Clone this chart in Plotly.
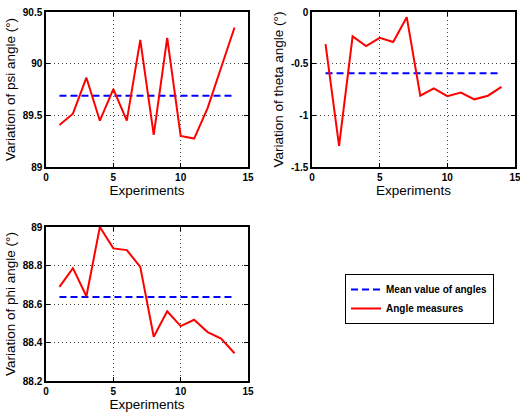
import plotly.graph_objects as go

experiments = list(range(1, 15))
psi_values = [89.406, 89.516, 89.864, 89.448, 89.753, 89.448, 90.23, 89.31, 90.25, 89.30, 89.275, 89.57, 89.96, 90.35]
theta_values = [-0.31, -1.295, -0.236, -0.33, -0.25, -0.29, -0.05, -0.81, -0.74, -0.815, -0.78, -0.845, -0.81, -0.725]
phi_values = [88.689, 88.786, 88.64, 89.0, 88.889, 88.88, 88.793, 88.43, 88.562, 88.485, 88.518, 88.454, 88.42, 88.344]
psi_mean = 89.69
theta_mean = -0.592
phi_mean = 88.637

x_ticks = [0, 5, 10, 15]
psi_ticks = [89, 89.5, 90, 90.5]
theta_ticks = [-1.5, -1, -0.5, 0]
phi_ticks = [88.2, 88.4, 88.6, 88.8, 89]

mean_label = "Mean value of angles"
meas_label = "Angle measures"

W, H = 520, 414
fig = go.Figure()

panels = [
    ("x", "y", psi_values, psi_mean, True),
    ("x2", "y2", theta_values, theta_mean, False),
    ("x3", "y3", phi_values, phi_mean, False),
]
for xa, ya, vals, mean, show in panels:
    fig.add_trace(go.Scatter(x=[experiments[0], experiments[-1]], y=[mean, mean], mode="lines",
                             line=dict(color="#0000ff", width=2, dash="7px,4px"),
                             name=mean_label, showlegend=show, xaxis=xa, yaxis=ya))
for xa, ya, vals, mean, show in panels:
    fig.add_trace(go.Scatter(x=experiments, y=vals, mode="lines",
                             line=dict(color="#ff0000", width=2),
                             name=meas_label, showlegend=show, xaxis=xa, yaxis=ya))

def px_x(a, b):
    return [a / W, b / W]

def px_y(top, bottom):
    return [1 - bottom / H, 1 - top / H]

tickfont = dict(family="Liberation Sans, Arial", size=10, color="black", weight="bold")
titlefont = dict(family="Liberation Sans, Arial", size=13.5, color="black")

common_axis = dict(showline=True, linecolor="black", linewidth=1.5, mirror="ticks",
                   ticks="inside", ticklen=4, tickcolor="black", tickwidth=1,
                   showgrid=True, gridcolor="#444444", gridwidth=1, griddash="1px,3px",
                   zeroline=False, tickfont=tickfont, automargin=False,
                   ticklabeloverflow="allow")

def xaxis(domain, anchor):
    return dict(common_axis, domain=domain, anchor=anchor, range=[0, 15], tickvals=x_ticks,
                title=dict(text="Experiments", font=titlefont, standoff=2))

def yaxis(domain, anchor, rng, ticks, label):
    return dict(common_axis, domain=domain, anchor=anchor, range=rng, tickvals=ticks,
                ticktext=["%g" % t for t in ticks],
                title=dict(text=label, font=titlefont, standoff=4))

fig.update_layout(
    width=W, height=H,
    margin=dict(l=0, r=0, t=0, b=0),
    paper_bgcolor="white", plot_bgcolor="white",
    xaxis=xaxis(px_x(46, 248), "y"),
    yaxis=yaxis(px_y(12, 167), "x", [89, 90.5], psi_ticks, "Variation of psi angle (°)"),
    xaxis2=xaxis(px_x(312, 515), "y2"),
    yaxis2=yaxis(px_y(12, 167), "x2", [-1.5, 0], theta_ticks, "Variation of theta angle (°)"),
    xaxis3=xaxis(px_x(46, 248), "y3"),
    yaxis3=yaxis(px_y(227, 381), "x3", [88.2, 89], phi_ticks, "Variation of phi angle (°)"),
    legend=dict(x=345 / W, y=1 - 274 / H, xanchor="left", yanchor="top",
                bordercolor="black", borderwidth=1, bgcolor="white",
                font=dict(family="Liberation Sans, Arial", size=10, color="black", weight="bold"),
                tracegroupgap=4),
    showlegend=True,
)

fig.write_html("out.html", config={"displayModeBar": False},
               post_script="document.body.style.margin='0';document.body.style.overflow='hidden';")
